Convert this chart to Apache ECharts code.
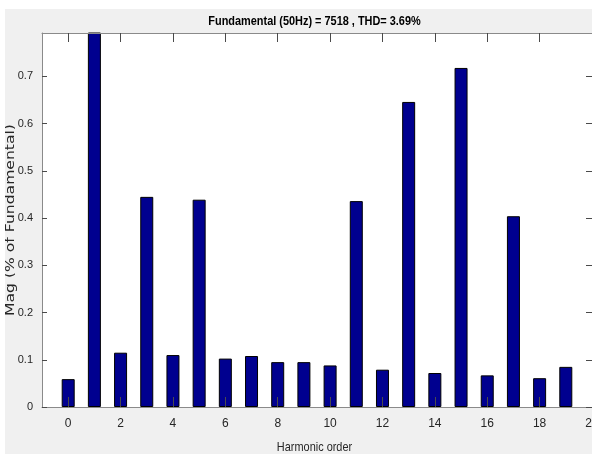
<!DOCTYPE html>
<html>
<head>
<meta charset="utf-8">
<script src="https://cdn.jsdelivr.net/npm/echarts@6/dist/echarts.min.js"></script>
<style>
  html, body { margin: 0; padding: 0; background: #ffffff; }
  #chart { position: absolute; left: 5px; top: 9px; width: 587px; height: 445px; }
</style>
</head>
<body>
<div id="chart"></div>
<script>
// Harmonic spectrum, magnitudes in % of the fundamental
const harmonicOrders = [0, 1, 2, 3, 4, 5, 6, 7, 8, 9, 10, 11, 12, 13, 14, 15, 16, 17, 18, 19];
const magnitudes = [0.059, 100, 0.115, 0.445, 0.110, 0.439, 0.1025, 0.108, 0.095, 0.095,
                    0.088, 0.436, 0.079, 0.646, 0.072, 0.718, 0.067, 0.404, 0.061, 0.085];
const xTicks = [0, 2, 4, 6, 8, 10, 12, 14, 16, 18, 20];
const yTicks = [0, 0.1, 0.2, 0.3, 0.4, 0.5, 0.6, 0.7];
const titleText = 'Fundamental (50Hz) = 7518 , THD= 3.69%';
const xName = 'Harmonic order';
const yName = 'Mag (% of Fundamental)';

const sans = "'Liberation Sans', Arial, sans-serif";
const lineColor = '#8a8a8a';
const tickColor = '#4a4a4a';
const textColor = '#262626';

const chart = echarts.init(document.getElementById('chart'), null, { renderer: 'canvas' });

const xBase = {
  type: 'value', min: -1, max: 20,
  splitLine: { show: false },
  axisLine: { show: true, onZero: false, lineStyle: { color: lineColor, width: 1 } }
};
const yBase = {
  type: 'value', min: 0, max: 0.792,
  splitLine: { show: false },
  axisLine: { show: true, onZero: false, lineStyle: { color: lineColor, width: 1 } }
};

chart.setOption({
  backgroundColor: '#f0f0f0',
  animation: false,
  grid: {
    left: 37, top: 24, right: 0, bottom: 47,
    outerBoundsMode: 'none', containLabel: false,
    show: true, backgroundColor: '#ffffff', borderWidth: 0
  },
  graphic: [
    {
      // condensed bold title above the plot
      type: 'text', x: 309.5, y: 12, z: 10, scaleX: 0.84,
      style: {
        text: titleText, fill: '#000000',
        font: "bold 13px " + sans,
        textAlign: 'center', textVerticalAlign: 'middle'
      }
    },
    {
      // condensed x-axis title
      type: 'text', x: 309.5, y: 432, z: 10, scaleX: 0.84,
      style: {
        text: xName, fill: textColor,
        font: "13px " + sans,
        textAlign: 'center', textVerticalAlign: 'top'
      }
    },
    {
      // vertical, loosely set y-axis title
      type: 'text', x: 6, y: 211, z: 10, rotation: Math.PI / 2, scaleX: 1.2,
      style: {
        text: yName, fill: textColor,
        font: "13px 'DejaVu Sans', sans-serif",
        textAlign: 'center', textVerticalAlign: 'middle'
      }
    }
  ],
  xAxis: [
    Object.assign({}, xBase, {
      position: 'bottom', z: 5,
      axisTick: { show: true, inside: true, length: 10, customValues: xTicks,
                  lineStyle: { color: tickColor, width: 1 } },
      axisLabel: { show: true, customValues: xTicks, margin: 11,
                   color: textColor, fontFamily: sans, fontSize: 12 }
    }),
    Object.assign({}, xBase, {
      position: 'top', z: 5,
      axisTick: { show: true, inside: true, length: 9, customValues: xTicks,
                  lineStyle: { color: tickColor, width: 1 } },
      axisLabel: { show: false }
    })
  ],
  yAxis: [
    Object.assign({}, yBase, {
      position: 'left', z: 5,
      axisTick: { show: true, inside: true, length: 5, customValues: yTicks,
                  lineStyle: { color: tickColor, width: 1 } },
      axisLabel: { show: true, customValues: yTicks, margin: 9,
                   color: textColor, fontFamily: sans, fontSize: 11,
                   formatter: v => String(Math.round(v * 10) / 10) }
    }),
    Object.assign({}, yBase, {
      position: 'right', z: 5,
      axisTick: { show: true, inside: true, length: 6, customValues: yTicks,
                  lineStyle: { color: tickColor, width: 1 } },
      axisLabel: { show: false }
    })
  ],
  series: [{
    type: 'bar',
    xAxisIndex: 0, yAxisIndex: 0,
    clip: true,
    barWidth: 13,
    data: harmonicOrders.map((h, i) => [h, magnitudes[i]]),
    itemStyle: { color: '#00008f', borderColor: '#000000', borderWidth: 1 }
  }]
});
</script>
</body>
</html>
